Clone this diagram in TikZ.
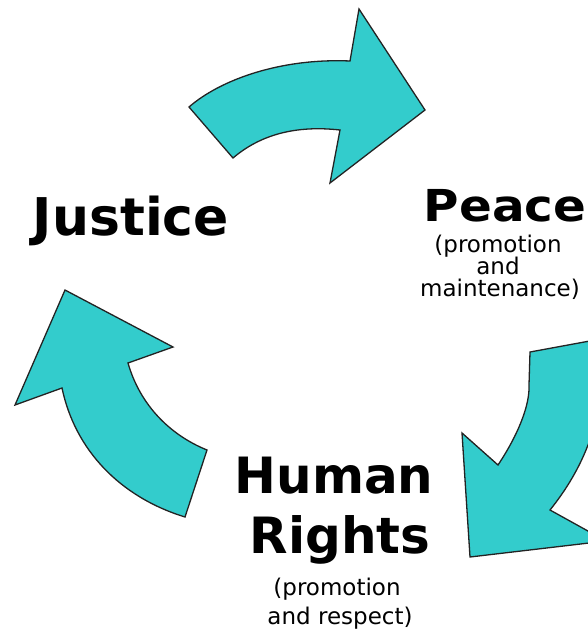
\documentclass[tikz,border=0pt]{standalone}
\usepackage{fontspec}
\setmainfont{DejaVu Sans}
\newfontfamily\widefont[FakeStretch=1.1]{DejaVu Sans}
\definecolor{arrowcol}{RGB}{51,204,204}
\definecolor{edgecol}{RGB}{35,35,35}
\tikzset{
  cyclearrow/.style={fill=arrowcol, draw=edgecol, line width=1.3pt, line join=miter},
  title/.style={anchor=base, inner sep=0pt, font=\bfseries\fontsize{#1}{#1}\selectfont},
  widetitle/.style={anchor=base, inner sep=0pt, font=\widefont\bfseries\fontsize{#1}{#1}\selectfont},
  sub/.style={anchor=base, inner sep=0pt, font=\fontsize{23}{23}\selectfont}
}
\begin{document}
\begin{tikzpicture}[x=1pt, y=-1pt]
\useasboundingbox (0,0) rectangle (588,629);
\begin{scope}
\clip (0,0) rectangle (588,629);
% top arrow (Justice -> Peace)
\draw[cyclearrow] (189,107) .. controls (220,80) and (280,58) .. (350,61)
  -- (359,9) -- (425,110) -- (330,183) -- (340,130)
  .. controls (295,125) and (260,135) .. (233,158) -- cycle;
% right arrow (Peace -> Human Rights)
\draw[cyclearrow] (530,352) -- (606,338)
  .. controls (606,420) and (582,470) .. (550,510)
  -- (606,541) -- (470,557) -- (462,433) -- (498,465)
  .. controls (518,435) and (530,405) .. (529,385) -- cycle;
% left arrow (Human Rights -> Justice)
\draw[cyclearrow] (65,290) -- (173,347) -- (128,363)
  .. controls (140,405) and (170,435) .. (207,450)
  -- (185,517)
  .. controls (120,497) and (75,450) .. (62,388)
  -- (15,405) -- cycle;
\end{scope}
% labels
\node[title=52] (justice) at (131,235) {Justice};
\node[widetitle=44] (peace) at (505,221) {Peace};
\node[sub] (peace1) at (498,252) {(promotion};
\node[sub] (peace2) at (498,274) {and};
\node[sub] (peace3) at (500,296) {maintenance)};
\node[title=50] (human) at (334,493) {Human};
\node[title=50] (rights) at (340,553) {Rights};
\node[sub] (hr1) at (337,595) {(promotion};
\node[sub] (hr2) at (340,624) {and respect)};
\end{tikzpicture}
\end{document}
